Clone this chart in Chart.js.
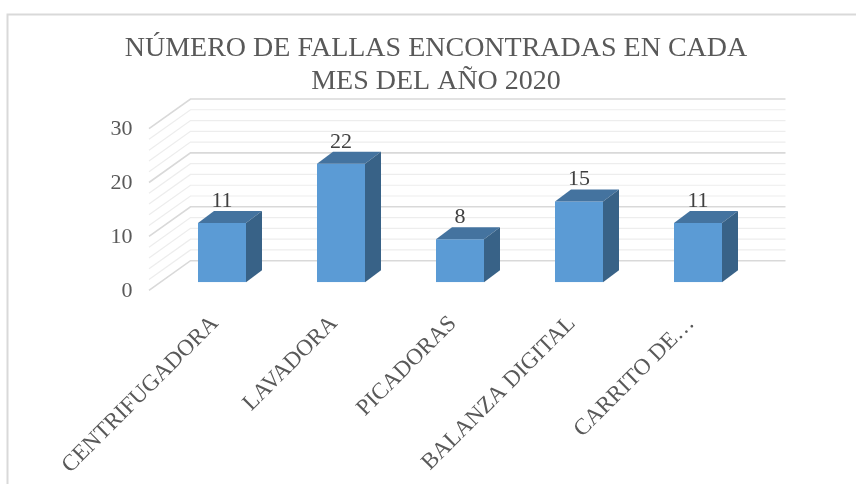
<!DOCTYPE html>
<html>
<head>
<meta charset="utf-8">
<script src="https://cdn.jsdelivr.net/npm/chart.js@4/dist/chart.umd.min.js"></script>
<style>
  html, body { margin: 0; padding: 0; background: #ffffff; }
  #wrap { width: 856px; height: 484px; }
</style>
</head>
<body>
<div id="wrap"><canvas id="c" width="856" height="484"></canvas></div>
<script>
// Chart data
const categories = ['CENTRIFUGADORA', 'LAVADORA', 'PICADORAS', 'BALANZA DIGITAL', 'CARRITO DE…'];
const fallas = [11, 22, 8, 15, 11];
const valueTicks = [0, 10, 20, 30];
const titleLines = ['NÚMERO DE FALLAS ENCONTRADAS EN CADA', 'MES DEL AÑO 2020'];

// 3D look: offsets of the back wall, side-wall front edge and bar depth
const WALL_BACK = { dx: 28, dy: -21.6 };
const WALL_FRONT = { dx: -13.5, dy: 8 };
const BAR_DEPTH = { dx: 16, dy: -12 };
const SERIF = '"Liberation Serif", "Times New Roman", serif';

const COLORS = {
  front: '#5B9BD5',
  top: '#44739F',
  side: '#386287',
  gridMajor: '#d9d9d9',
  gridMinor: '#ededed',
  text: '#595959',
  valueText: '#404040',
  frame: '#d9d9d9'
};

// Outer frame of the chart
const framePlugin = {
  id: 'frame',
  beforeDraw(chart) {
    const ctx = chart.ctx;
    ctx.save();
    ctx.fillStyle = '#ffffff';
    ctx.fillRect(0, 0, chart.width, chart.height);
    ctx.strokeStyle = COLORS.frame;
    ctx.lineWidth = 2;
    ctx.beginPath();
    ctx.moveTo(7.5, chart.height);
    ctx.lineTo(7.5, 14.5);
    ctx.lineTo(chart.width, 14.5);
    ctx.stroke();
    ctx.restore();
  }
};

// Back wall and left side wall with gridlines
const wallsPlugin = {
  id: 'walls',
  beforeDatasetsDraw(chart) {
    const ctx = chart.ctx;
    const ys = chart.scales.y;
    const area = chart.chartArea;
    const bx0 = area.left + WALL_BACK.dx;
    const bx1 = area.right + WALL_BACK.dx;
    const fx = area.left + WALL_FRONT.dx;
    const step = 2;
    const lines = [];
    for (let v = ys.min; v <= ys.max; v += step) lines.push(v);
    ctx.save();
    [false, true].forEach(majorPass => {
      lines.forEach(v => {
        const major = valueTicks.includes(v);
        if (major !== majorPass) return;
        const py = ys.getPixelForValue(v);
        ctx.strokeStyle = major ? COLORS.gridMajor : COLORS.gridMinor;
        ctx.lineWidth = major ? 1.6 : 1.2;
        ctx.beginPath();
        ctx.moveTo(fx, py + WALL_FRONT.dy);
        ctx.lineTo(bx0, py + WALL_BACK.dy);
        ctx.lineTo(bx1, py + WALL_BACK.dy);
        ctx.stroke();
      });
    });
    ctx.restore();
  }
};

// Top and side faces of each column, plus value labels
const columnsPlugin = {
  id: 'columns3d',
  afterDatasetsDraw(chart) {
    const ctx = chart.ctx;
    const meta = chart.getDatasetMeta(0);
    ctx.save();
    meta.data.forEach((bar, i) => {
      const p = bar.getProps(['x', 'y', 'width', 'base'], true);
      const x0 = p.x - p.width / 2;
      const x1 = p.x + p.width / 2;
      const yt = p.y;
      const yb = p.base;
      const dx = BAR_DEPTH.dx, dy = BAR_DEPTH.dy;

      ctx.fillStyle = COLORS.top;
      ctx.beginPath();
      ctx.moveTo(x0, yt);
      ctx.lineTo(x1, yt);
      ctx.lineTo(x1 + dx, yt + dy);
      ctx.lineTo(x0 + dx, yt + dy);
      ctx.closePath();
      ctx.fill();

      ctx.fillStyle = COLORS.side;
      ctx.beginPath();
      ctx.moveTo(x1, yt);
      ctx.lineTo(x1 + dx, yt + dy);
      ctx.lineTo(x1 + dx, yb + dy);
      ctx.lineTo(x1, yb);
      ctx.closePath();
      ctx.fill();

      ctx.fillStyle = COLORS.valueText;
      ctx.font = '22px ' + SERIF;
      ctx.textAlign = 'center';
      ctx.textBaseline = 'alphabetic';
      ctx.fillText(String(fallas[i]), p.x, yt + dy - 4);
    });
    ctx.restore();
  }
};

new Chart(document.getElementById('c'), {
  type: 'bar',
  data: {
    labels: categories,
    datasets: [{
      label: 'Fallas',
      data: fallas,
      backgroundColor: COLORS.front,
      borderWidth: 0,
      barPercentage: 0.4034,
      categoryPercentage: 1
    }]
  },
  options: {
    responsive: false,
    devicePixelRatio: 1,
    animation: false,
    layout: { padding: { left: 16, right: 0, top: 0, bottom: 0 } },
    plugins: {
      legend: { display: false },
      tooltip: { enabled: false },
      title: {
        display: true,
        text: titleLines,
        color: COLORS.text,
        font: { family: SERIF, size: 28, weight: 'normal', lineHeight: 1.18 },
        padding: { top: 32.5, bottom: 22 }
      }
    },
    scales: {
      x: {
        grid: { display: false, drawTicks: false },
        border: { display: false },
        ticks: {
          autoSkip: false,
          minRotation: 45,
          maxRotation: 45,
          padding: 28,
          labelOffset: -7,
          color: COLORS.text,
          font: { family: SERIF, size: 23 }
        },
        afterFit(scale) { scale.height = 201.7; }
      },
      y: {
        min: 0,
        max: 30,
        grid: { display: false, drawTicks: false },
        border: { display: false },
        ticks: {
          stepSize: 10,
          padding: 30,
          labelOffset: 9,
          color: COLORS.text,
          font: { family: SERIF, size: 22 }
        },
        afterBuildTicks(scale) { scale.ticks = valueTicks.map(v => ({ value: v })); },
        afterFit(scale) { scale.width = 146.5; }
      },
      y2: {
        position: 'right',
        min: 0,
        max: 30,
        grid: { display: false, drawTicks: false },
        border: { display: false },
        ticks: { display: false },
        afterFit(scale) { scale.width = 98.5; }
      }
    }
  },
  plugins: [framePlugin, wallsPlugin, columnsPlugin]
});
</script>
</body>
</html>
